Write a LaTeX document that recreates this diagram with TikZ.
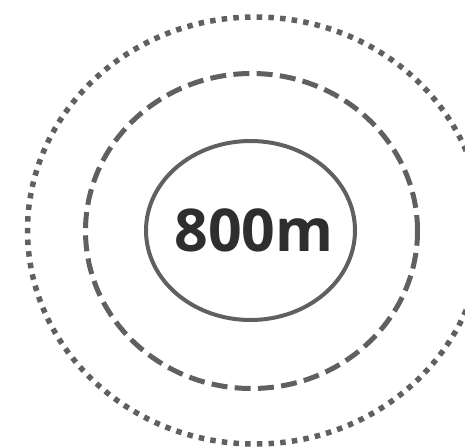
\documentclass[tikz,border=0pt]{standalone}
\usepackage{fontspec}
\setsansfont{Open Sans}
\usetikzlibrary{calc}
\definecolor{ringgray}{HTML}{606060}
\definecolor{textgray}{HTML}{2E2E2E}

\begin{document}
\begin{tikzpicture}[x=1pt, y=-1pt,
  ring/.style={draw=ringgray, line width=4pt},
  dashring/.style={ring, line width=5pt, dash pattern=on 16pt off 7.3pt},
  dotring/.style={ring, line width=5.5pt, dash pattern=on 5.5pt off 6.2pt}]
\useasboundingbox (0,0) rectangle (465,447);
\clip (0,0) rectangle (465,447);

\coordinate (inner) at (250.5,230.5);
\coordinate (middle) at (251.5,231);
\coordinate (outer) at (255,230.5);

% rings
\draw[dotring] (outer) ellipse [x radius=227.5pt, y radius=213.5pt];
\draw[dashring] (middle) ellipse [x radius=166pt, y radius=157.5pt];
\draw[ring] (inner) ellipse [x radius=104.5pt, y radius=89.5pt];

\node[text=textgray, font=\sffamily\bfseries\fontsize{59}{59}\selectfont]
  (dist) at (254,230) {800m};
\end{tikzpicture}
\end{document}
